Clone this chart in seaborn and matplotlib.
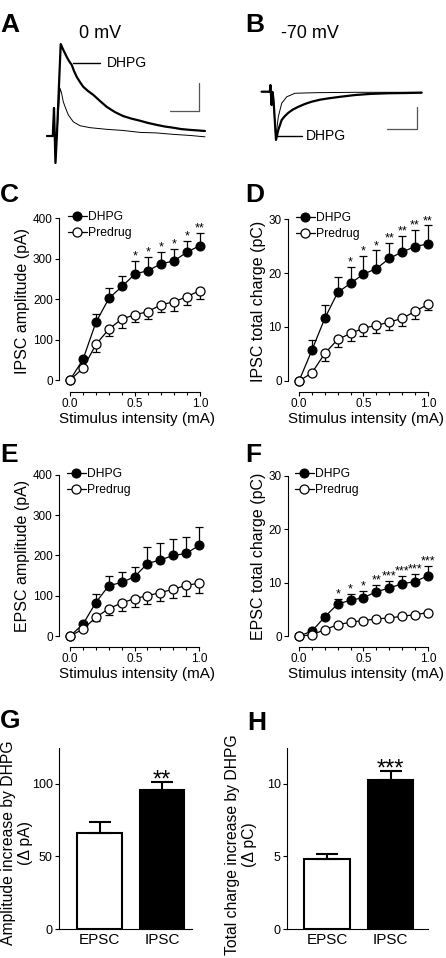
import numpy as np
import seaborn as sns
import matplotlib.pyplot as plt

W, H = 446, 958

# ---- data ----
stim = [0.0, 0.1, 0.2, 0.3, 0.4, 0.5, 0.6, 0.7, 0.8, 0.9, 1.0]

ipsc_amp_dhpg = [0, 51, 143, 202, 231, 262, 270, 287, 294, 316, 332]
ipsc_amp_dhpg_sem = [0, 5, 19, 25, 27, 32, 34, 29, 30, 28, 31]
ipsc_amp_pre = [0, 29, 88, 126, 151, 161, 169, 186, 193, 206, 221]
ipsc_amp_pre_sem = [0, 4, 19, 17, 23, 18, 18, 18, 22, 22, 21]
ipsc_amp_stars = ["", "", "", "", "", "*", "*", "*", "*", "*", "**"]

ipsc_chg_dhpg = [0, 5.7, 11.6, 16.4, 18.1, 19.8, 20.8, 22.7, 23.9, 24.9, 25.4]
ipsc_chg_dhpg_sem = [0, 1.8, 2.4, 2.9, 3.0, 3.4, 3.4, 2.8, 3.0, 3.1, 3.4]
ipsc_chg_pre = [0, 1.5, 5.1, 7.7, 8.8, 9.8, 10.3, 10.9, 11.6, 12.9, 14.2]
ipsc_chg_pre_sem = [0, 0.3, 1.4, 1.4, 1.4, 1.5, 1.5, 1.5, 1.5, 1.4, 1.1]
ipsc_chg_stars = ["", "", "", "", "*", "*", "*", "**", "**", "**", "**"]

epsc_amp_dhpg = [0, 29, 83, 125, 133, 147, 180, 189, 200, 205, 225]
epsc_amp_dhpg_sem = [0, 4, 21, 25, 25, 25, 41, 41, 42, 42, 47]
epsc_amp_pre = [0, 17, 46, 68, 82, 93, 100, 108, 116, 126, 131]
epsc_amp_pre_sem = [0, 3, 8, 16, 19, 20, 21, 20, 22, 27, 25]
epsc_amp_stars = [""] * 11

epsc_chg_dhpg = [0, 0.9, 3.6, 6.0, 6.7, 7.2, 8.3, 9.0, 9.8, 10.2, 11.3]
epsc_chg_dhpg_sem = [0, 0.3, 0.6, 1.0, 1.2, 1.2, 1.3, 1.3, 1.5, 1.5, 1.9]
epsc_chg_pre = [0, 0.2, 1.2, 2.1, 2.6, 2.9, 3.2, 3.4, 3.7, 4.0, 4.4]
epsc_chg_pre_sem = [0, 0.2, 0.3, 0.3, 0.3, 0.3, 0.3, 0.3, 0.3, 0.3, 0.3]
epsc_chg_stars = ["", "", "", "*", "*", "*", "**", "***", "***", "***", "***"]

groups = ["EPSC", "IPSC"]
amp_increase = [66, 96]
amp_increase_sem = [8, 5]
amp_increase_stars = ["", "**"]
charge_increase = [4.8, 10.3]
charge_increase_sem = [0.4, 0.6]
charge_increase_stars = ["", "***"]

# example traces (ms, pA)
a_t_dhpg = [-12, -2, 0, 2.5, 5, 11.4, 15.8, 21.6, 25.5, 30.1, 34, 38.6, 44.2, 49.8, 57.8,
            66.8, 78.2, 89.6, 103.7, 117.3, 130.9, 146.2, 159.8, 174.6, 188.7, 202.3,
            215.9, 231.2, 244.8, 256.7]
a_i_dhpg = [0, 0, 101, -97, 7, 331, 310, 285, 270, 256, 234, 213, 194, 177, 162,
            148, 126, 105, 86, 72, 63, 55, 47, 40, 34, 30, 25, 22, 20, 18]
a_t_ctrl = [-12, -2, 0, 2.5, 5, 10.2, 12.8, 15.8, 19.6, 24.3, 32.8, 44.2, 61.2, 89.6,
            117.3, 146.2, 174.6, 202.3, 231.2, 256.7]
a_i_ctrl = [0, 0, 101, -97, 7, 172, 155, 123, 101, 76, 51, 37, 30, 24, 20, 13, 11, 6, 2, -3]

b_t_dhpg = [-16, -2, -1, 1, 2.6, 4.3, 8.5, 12.4, 18.2, 23.8, 29.4, 37.4, 46.4, 57.8, 69.2,
            83.3, 97.4, 117.3, 142.8, 168.3, 198.9, 227.8, 256.2]
b_i_dhpg = [0, 0, 30, -60, -1, -37, -217, -172, -127, -109, -95, -80, -68, -55, -45,
            -36, -30, -23, -15, -10, -7, -6, -4.5]
b_t_ctrl = [-16, -2, -1, 1, 2.6, 4.3, 8, 12.4, 18.2, 26.7, 40.8, 74.8, 142.8, 256.2]
b_i_ctrl = [0, 0, 30, -60, -1, -37, -210, -113, -52, -23, -7, -4.5, -2.7, -2.7]

sns.set_style("ticks")
plt.rcParams["font.family"] = ["Liberation Sans", "DejaVu Sans"]
plt.rcParams["text.color"] = "black"
plt.rcParams["axes.edgecolor"] = "black"
plt.rcParams["xtick.color"] = "black"
plt.rcParams["ytick.color"] = "black"
plt.rcParams["axes.labelcolor"] = "black"

fig = plt.figure(figsize=(W / 100, H / 100), dpi=100)


def px_axes(x0, y0, x1, y1):
    return fig.add_axes([x0 / W, 1 - y1 / H, (x1 - x0) / W, (y1 - y0) / H])


def ftext(x, y, s, **kw):
    fig.text(x / W, 1 - y / H, s, **kw)


def trace_panel(box, xlim, ylim, t1, i1, t2, i2, bar, tag):
    ax = px_axes(*box)
    sns.lineplot(x=t2, y=i2, sort=False, estimator=None, color="black", lw=0.7, ax=ax)
    sns.lineplot(x=t1, y=i1, sort=False, estimator=None, color="black", lw=1.6, ax=ax)
    bx0, bx1, by0, by1 = bar
    ax.plot([bx0, bx1, bx1], [by0, by0, by1], color="#555555", lw=0.9)
    lx0, lx1, ly, tx = tag
    ax.plot([lx0, lx1], [ly, ly], color="black", lw=1.0)
    ax.text(tx, ly, "DHPG", fontsize=10, va="center", ha="left")
    ax.set_xlim(*xlim)
    ax.set_ylim(*ylim)
    ax.axis("off")


trace_panel((40, 30, 215, 170), (-23.8, 273.7), (-122.4, 381.6),
            a_t_dhpg, a_i_dhpg, a_t_ctrl, a_i_ctrl,
            (196.5, 246.5, 90, 190), (32.3, 78.2, 262.8, 90.1))
trace_panel((255, 75, 430, 150), (-27.2, 270.3), (-262.4, 75.2),
            b_t_dhpg, b_i_dhpg, b_t_ctrl, b_i_ctrl,
            (198, 248, -168, -68), (10.2, 52.7, -199.4, 59.5))
ftext(100, 33, "0 mV", fontsize=13, ha="center", va="center")
ftext(310, 33, "-70 mV", fontsize=13, ha="center", va="center")


def curve_panel(box, xlim, ylim, ytop, ystep, dhpg, dhpg_sem, pre, pre_sem, stars,
                ylabel, leg_xy):
    ax = px_axes(*box)
    x = np.array(stim)
    zero = np.zeros_like(x)
    ax.errorbar(x, dhpg, yerr=[zero, dhpg_sem], fmt="none", ecolor="black",
                elinewidth=0.9, capsize=3, capthick=0.9, zorder=1)
    ax.errorbar(x, pre, yerr=[pre_sem, zero], fmt="none", ecolor="black",
                elinewidth=0.9, capsize=3, capthick=0.9, zorder=1)
    sns.lineplot(x=x, y=dhpg, ax=ax, color="black", lw=0.9, marker="o", markersize=6.5,
                 markerfacecolor="black", markeredgecolor="black", label="DHPG", zorder=3)
    sns.lineplot(x=x, y=pre, ax=ax, color="black", lw=0.9, marker="o", markersize=6.5,
                 markerfacecolor="white", markeredgecolor="black", markeredgewidth=0.9,
                 label="Predrug", zorder=3)
    for xi, yi, ei, s in zip(x, dhpg, dhpg_sem, stars):
        if s:
            ax.annotate(s, (xi, yi + ei), xytext=(0, 1), textcoords="offset points",
                        ha="center", va="baseline", fontsize=9)
    ax.set_xlim(*xlim)
    ax.set_ylim(*ylim)
    ax.set_xticks([0, 0.5, 1.0])
    ax.set_xticklabels(["0.0", "0.5", "1.0"])
    ax.set_xticks(np.arange(0, 1.01, 0.1), minor=True)
    ax.set_yticks(np.arange(0, ytop + 0.01, ystep))
    ax.tick_params(axis="both", which="major", direction="out", length=3, width=0.8,
                   labelsize=8.5, pad=1.5)
    ax.tick_params(axis="x", which="minor", direction="out", length=2, width=0.8)
    for side in ["top", "right"]:
        ax.spines[side].set_visible(False)
    ax.spines["left"].set_bounds(0, ytop)
    ax.spines["bottom"].set_bounds(0, 1)
    ax.spines["left"].set_linewidth(0.8)
    ax.spines["bottom"].set_linewidth(0.8)
    ax.set_xlabel("Stimulus intensity (mA)", fontsize=11, labelpad=1)
    ax.set_ylabel(ylabel, fontsize=11.5, labelpad=2)
    ax.legend(loc="upper left", bbox_to_anchor=(leg_xy[0] / W, 1 - leg_xy[1] / H),
              bbox_transform=fig.transFigure, frameon=False, fontsize=8.7,
              handlelength=1.55, handletextpad=0.12, labelspacing=0.35,
              borderpad=0, borderaxespad=0)


curve_panel((59, 210, 215, 392), (-0.0846, 1.115), (-29.6, 419.8), 400, 100,
            ipsc_amp_dhpg, ipsc_amp_dhpg_sem, ipsc_amp_pre, ipsc_amp_pre_sem,
            ipsc_amp_stars, "IPSC amplitude (pA)", (68, 211))
curve_panel((288, 210, 445, 392), (-0.0853, 1.132), (-2.04, 31.67), 30, 10,
            ipsc_chg_dhpg, ipsc_chg_dhpg_sem, ipsc_chg_pre, ipsc_chg_pre_sem,
            ipsc_chg_stars, "IPSC total charge (pC)", (296, 212))
curve_panel((59, 465, 215, 647), (-0.0853, 1.124), (-27.3, 424.8), 400, 100,
            epsc_amp_dhpg, epsc_amp_dhpg_sem, epsc_amp_pre, epsc_amp_pre_sem,
            epsc_amp_stars, "EPSC amplitude (pA)", (67, 468))
curve_panel((288, 465, 445, 647), (-0.0853, 1.132), (-2.06, 32.06), 30, 10,
            epsc_chg_dhpg, epsc_chg_dhpg_sem, epsc_chg_pre, epsc_chg_pre_sem,
            epsc_chg_stars, "EPSC total charge (pC)", (295, 468))


def bar_panel(box, xlim, ytop, yticks, vals, sems, stars, ylabel, star_dy, label_xy):
    ax = px_axes(*box)
    sns.barplot(x=groups, y=vals, hue=groups, palette=["white", "black"], legend=False,
                edgecolor="black", linewidth=1.5, width=0.72, errorbar=None, ax=ax)
    ax.errorbar([0, 1], vals, yerr=[[0, 0], sems], fmt="none", ecolor="black",
                elinewidth=1.5, capsize=8, capthick=1.5, zorder=3)
    for xi, v, e, s in zip([0, 1], vals, sems, stars):
        if s:
            ax.annotate(s, (xi, v + e), xytext=(0, star_dy), textcoords="offset points",
                        ha="center", va="baseline", fontsize=17)
    ax.set_xlim(*xlim)
    ax.set_ylim(0, ytop * 1.042)
    ax.set_yticks(yticks)
    ax.tick_params(axis="y", direction="out", length=3, width=0.8, labelsize=9, pad=1.5)
    ax.tick_params(axis="x", length=0, labelsize=11, pad=3)
    for side in ["top", "right"]:
        ax.spines[side].set_visible(False)
    ax.spines["left"].set_bounds(0, ytop)
    ax.spines["left"].set_linewidth(0.8)
    ax.spines["bottom"].set_linewidth(0.8)
    ax.set_ylabel(ylabel, fontsize=11.3)
    ax.yaxis.set_label_coords(*label_xy)


bar_panel((59, 740, 192, 929), (-0.648, 1.48), 125, [0, 50, 100],
          amp_increase, amp_increase_sem, amp_increase_stars,
          "Amplitude increase by DHPG\n(\u0394 pA)", -3, (-0.195, 0.455))
bar_panel((287, 740, 428, 929), (-0.63, 1.59), 12.5, [0, 5, 10],
          charge_increase, charge_increase_sem, charge_increase_stars,
          "Total charge increase by DHPG\n(\u0394 pC)", -3.5, (-0.213, 0.444))

for letter, x, y in [("A", 0, 32), ("B", 245, 32), ("C", 0, 202), ("D", 245, 202),
                     ("E", 0, 462), ("F", 245, 462), ("G", 0, 728), ("H", 247, 730)]:
    ftext(x, y, letter, fontsize=19, fontweight="bold", ha="left", va="baseline")

fig.savefig("out.png", dpi=100)
